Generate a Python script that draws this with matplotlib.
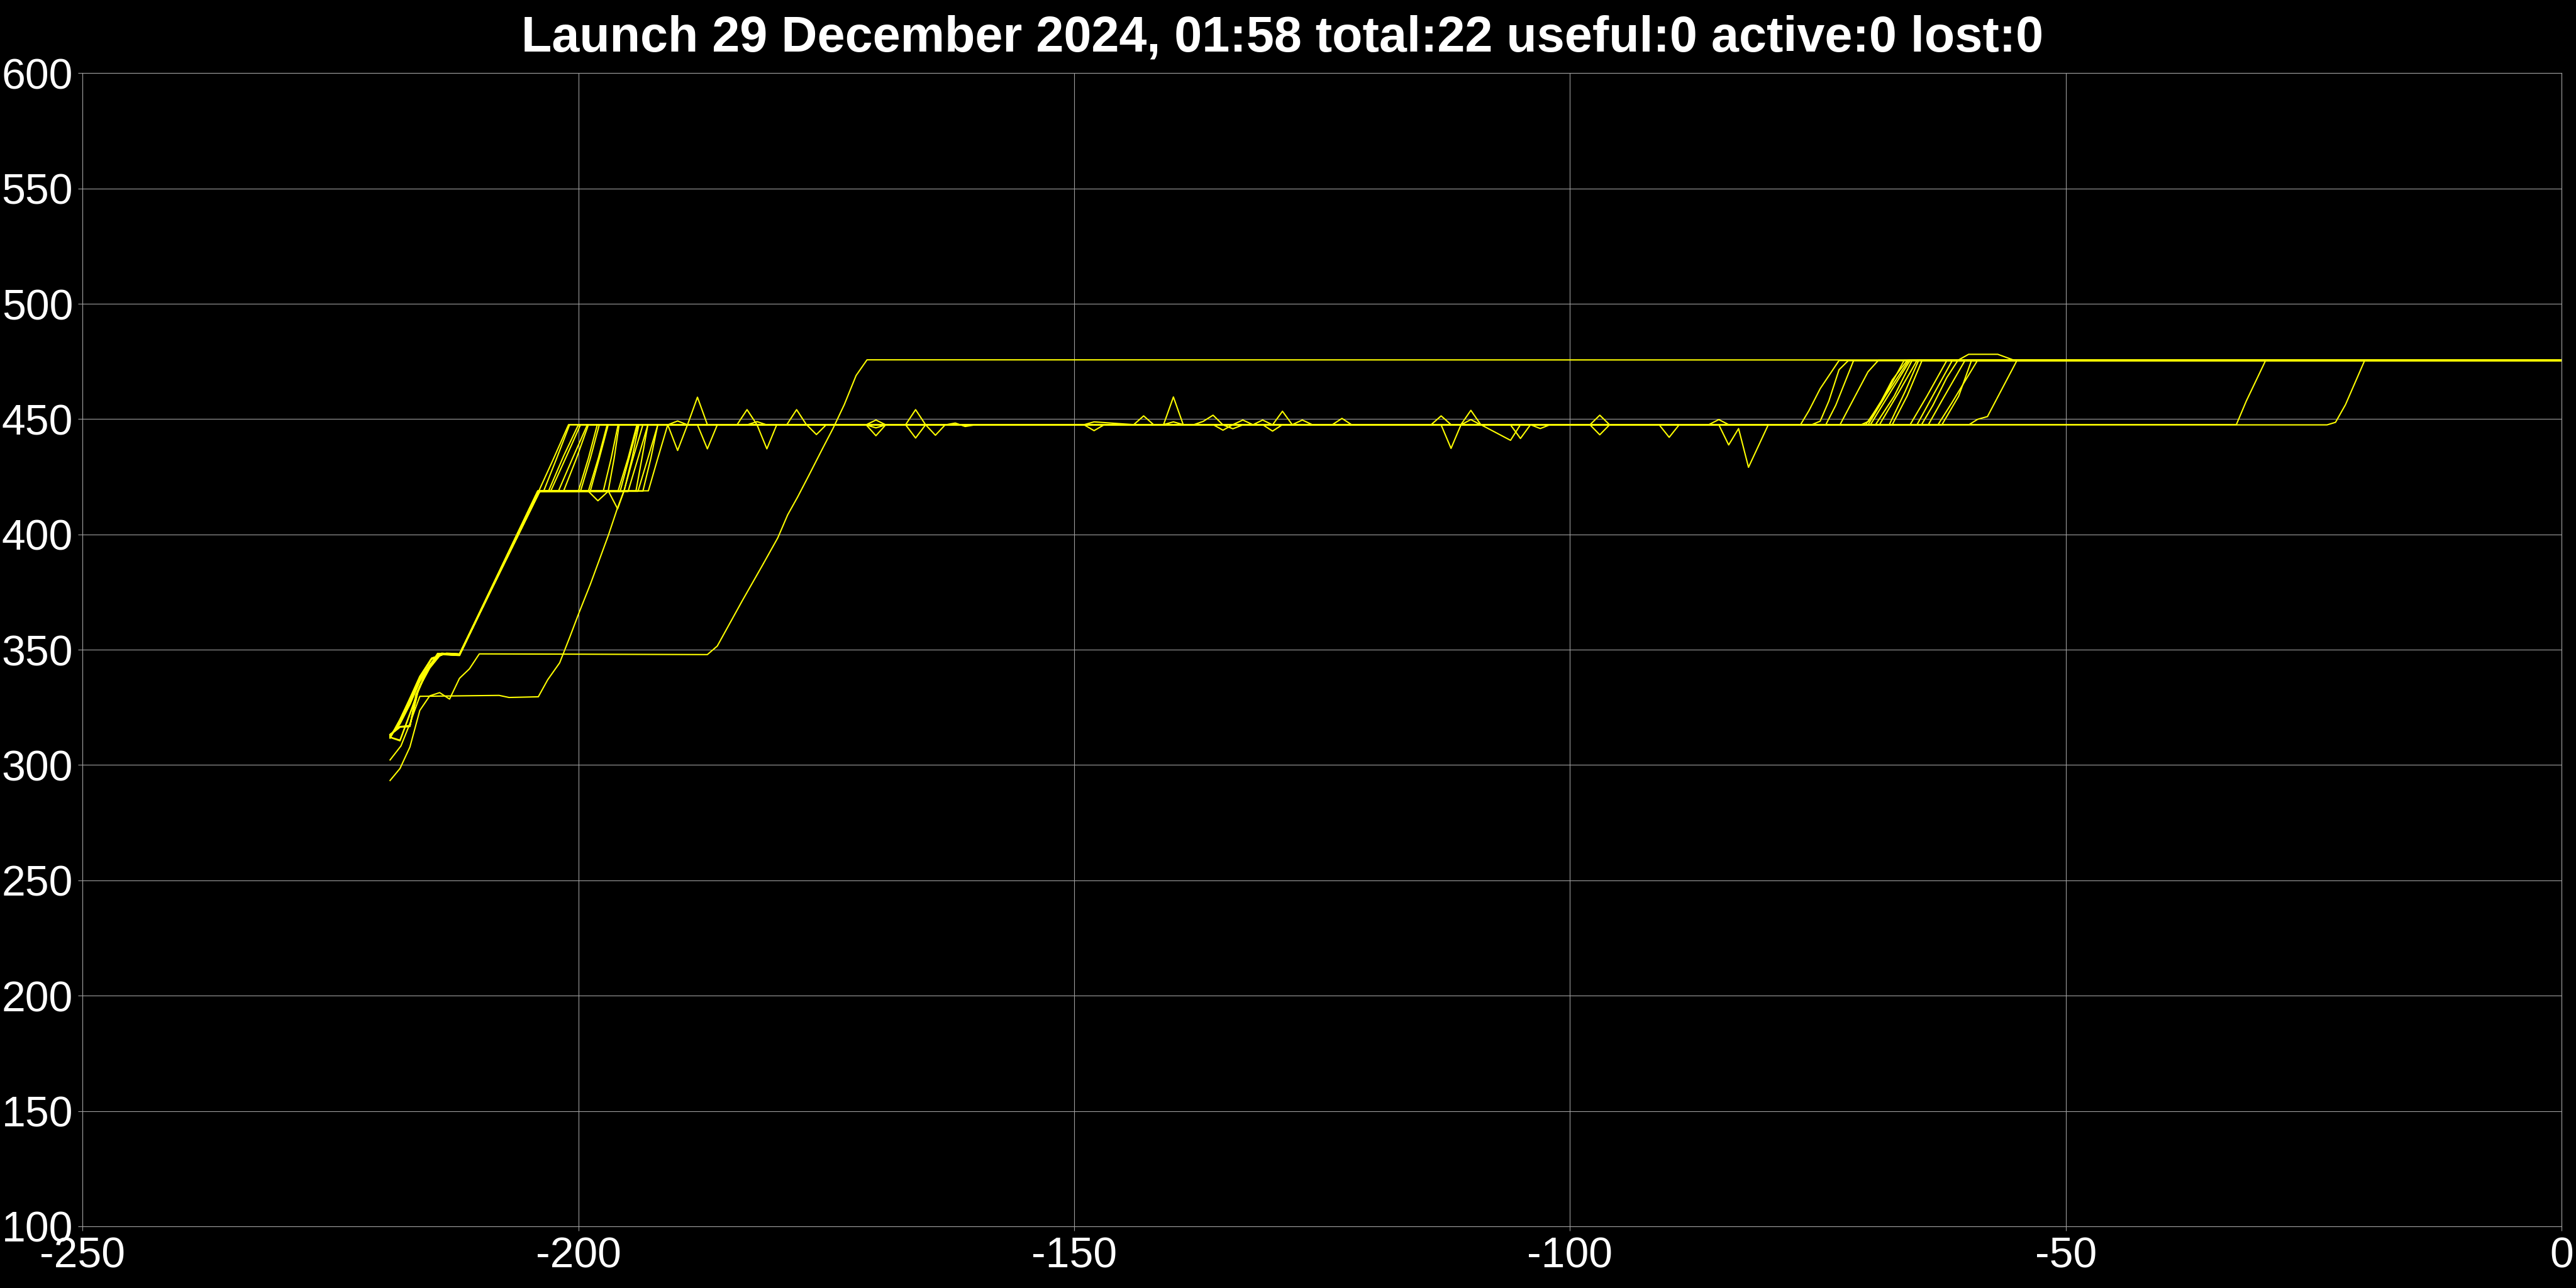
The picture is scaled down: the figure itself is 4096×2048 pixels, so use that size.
import matplotlib
matplotlib.use("Agg")
import matplotlib.pyplot as plt

plt.rcParams['axes.unicode_minus'] = False

title = "Launch 29 December 2024, 01:58 total:22 useful:0 active:0 lost:0"

x_ticks = [-250, -200, -150, -100, -50, 0]
y_ticks = [100, 150, 200, 250, 300, 350, 400, 450, 500, 550, 600]

# orbit-raising tracks, (days, altitude km) vertices
sat01 = [(-219, 312.5), (-218, 318.0), (-217, 326.5), (-216, 336.5), (-215, 343.0), (-214.2, 348.3), (-212, 347.8),
         (-204.0, 418.8), (-202.5, 433.0), (-201.0, 447.6), (-191, 447.6), (-190, 436.4), (-189, 447.6),
         (-141, 447.6), (-140, 448.8), (-139, 447.6), (-85, 447.6), (-84, 438.8), (-83, 445.9), (-82, 429.1),
         (-80, 447.6), (-76.75, 447.6), (-75.9, 453.7), (-74.77, 463.2), (-72.87, 475.4), (0, 475.4)]
sat02 = [(-219, 313.2), (-218, 316.6), (-217, 317.0), (-216.3, 331.0), (-215.2, 341.5), (-214.0, 348.1), (-212, 347.6),
         (-204.1, 418.7), (-203.5, 418.9), (-202.2, 433.0), (-200.9, 447.5), (-191, 447.5), (-190, 449.2),
         (-189, 447.5), (-138, 447.5), (-137, 449.0), (-136, 451.7), (-135, 447.5), (-69.95, 447.5),
         (-68.2, 460.0), (-65.84, 475.5), (0, 475.5)]
sat03 = [(-219, 311.8), (-218, 319.5), (-217, 328.5), (-216, 338.0), (-214.8, 346.0), (-213.4, 348.4), (-212, 348.1),
         (-203.9, 418.9), (-203.0, 419.0), (-201.5, 434.0), (-200.0, 447.6), (-189, 447.6), (-188, 459.5),
         (-187, 447.6), (-136, 447.6), (-135, 445.2), (-134, 447.6), (-75.6, 447.6), (-74.77, 449.1),
         (-73.9, 457.8), (-72.87, 471.4), (-71.93, 475.4), (0, 475.4)]
sat04 = [(-219, 312.6), (-218, 318.4), (-217, 327.0), (-216, 337.0), (-215, 343.5), (-214.0, 348.2), (-212, 347.9),
         (-204.0, 418.6), (-202.8, 418.8), (-201.3, 433.0), (-199.8, 447.5), (-188, 447.5), (-187, 437.1),
         (-186, 447.5), (-135, 447.5), (-134, 445.8), (-133, 447.5), (-64.56, 447.5), (-63.4, 456.0),
         (-62.0, 468.0), (-60.88, 475.5), (-59.8, 478.1), (-56.86, 478.1), (-55.2, 475.5), (0, 475.5)]
sat05 = [(-219, 313.0), (-218, 316.4), (-217, 316.8), (-216.2, 332.0), (-215.1, 342.0), (-213.9, 348.0), (-212, 347.7),
         (-204.0, 418.8), (-202.0, 419.0), (-200.6, 433.0), (-199.1, 447.6), (-184, 447.6), (-183, 454.1),
         (-182, 447.6), (-134, 447.6), (-133, 449.6), (-132, 447.6), (-69.7, 447.6), (-67.5, 463.0),
         (-65.7, 475.4), (0, 475.4)]
sat06 = [(-219, 311.9), (-218, 319.8), (-217, 329.0), (-216, 338.5), (-214.8, 346.3), (-213.3, 348.5), (-212, 348.2),
         (-203.9, 418.7), (-201.5, 418.8), (-200.2, 433.0), (-199.0, 447.5), (-183, 447.5), (-182, 448.9),
         (-181, 447.5), (-132, 447.5), (-131, 449.6), (-130, 447.5), (-72.78, 447.5), (-69.95, 470.5),
         (-68.9, 475.5), (0, 475.5)]
sat07 = [(-219, 312.4), (-218, 317.8), (-217, 326.2), (-216, 336.2), (-215, 342.8), (-214.2, 348.4), (-212, 347.8),
         (-204.1, 418.9), (-200.0, 418.9), (-199.0, 433.0), (-198.1, 447.6), (-182, 447.6), (-181, 437.1),
         (-180, 447.6), (-131, 447.6), (-130, 444.8), (-129, 447.6), (-65.7, 447.6), (-64.0, 460.0),
         (-62.0, 475.4), (0, 475.4)]
sat08 = [(-219, 312.0), (-218, 310.5), (-217, 322.0), (-216, 334.0), (-215, 342.0), (-213.8, 348.5), (-212, 347.9),
         (-204.0, 418.6), (-199.8, 418.7), (-198.8, 433.0), (-197.9, 447.5), (-179, 447.5), (-178, 454.1),
         (-177, 447.5), (-130, 447.5), (-129, 453.4), (-128, 447.5), (-70.66, 447.5), (-69.9, 449.0),
         (-68.6, 458.0), (-67.5, 467.0), (-65.98, 475.5), (0, 475.5)]
sat09 = [(-219, 313.3), (-218, 316.5), (-217, 316.7), (-216.4, 330.5), (-215.3, 341.0), (-214.1, 348.0), (-212, 347.5),
         (-204.0, 418.8), (-199.0, 418.8), (-198.0, 433.0), (-197.1, 447.6), (-177, 447.6), (-176, 443.3),
         (-175, 447.6), (-128, 447.6), (-127, 449.6), (-126, 447.6), (-65.0, 447.6), (-63.3, 461.0),
         (-61.45, 475.4), (0, 475.4)]
sat10 = [(-219, 311.7), (-218, 319.2), (-217, 328.2), (-216, 337.8), (-214.9, 345.8), (-213.5, 348.3), (-212, 348.0),
         (-203.9, 418.9), (-198.8, 418.9), (-197.9, 433.0), (-197.0, 447.5), (-171, 447.5), (-170, 449.6),
         (-169, 447.5), (-124, 447.5), (-123, 450.3), (-122, 447.5), (-69.2, 447.5), (-67.3, 460.0),
         (-65.5, 475.5), (0, 475.5)]
sat11 = [(-219, 312.7), (-218, 318.2), (-217, 326.8), (-216, 336.8), (-215, 343.2), (-214.1, 348.2), (-212, 347.8),
         (-204.0, 418.7), (-197.5, 418.7), (-196.7, 433.0), (-196.0, 447.6), (-171, 447.6), (-170, 442.8),
         (-169, 447.6), (-114, 447.6), (-113, 451.4), (-112, 447.6), (-63.86, 447.6), (-62.5, 458.0),
         (-60.17, 475.4), (0, 475.4)]
sat12 = [(-219, 313.1), (-218, 316.7), (-217, 317.1), (-216.3, 331.2), (-215.2, 341.7), (-214.0, 348.1), (-212, 347.6),
         (-204.1, 418.8), (-197.0, 418.8), (-196.4, 433.0), (-195.9, 447.5), (-171, 447.5), (-170, 446.2),
         (-169, 447.5), (-113, 447.5), (-112, 437.3), (-111, 447.5), (-68.8, 447.5), (-66.8, 462.0),
         (-65.0, 475.5), (0, 475.5)]
sat13 = [(-219, 311.9), (-218, 319.6), (-217, 328.7), (-216, 338.2), (-214.8, 346.2), (-213.4, 348.4), (-212, 348.1),
         (-204.0, 418.9), (-196.0, 418.9), (-195.0, 433.0), (-194.1, 447.6), (-167, 447.6), (-166, 454.1),
         (-165, 447.6), (-111, 447.6), (-110, 453.8), (-109, 447.6), (-67.8, 447.6), (-66.2, 462.0),
         (-64.85, 475.4), (0, 475.4)]
sat14 = [(-219, 312.1), (-218, 310.8), (-217, 322.4), (-216, 334.3), (-215, 342.2), (-213.8, 348.4), (-212, 347.9),
         (-203.9, 418.7), (-199.0, 418.7), (-198.04, 414.6), (-197.0, 418.7), (-195.8, 418.7), (-194.9, 433.0),
         (-194.0, 447.5), (-167, 447.5), (-166, 441.8), (-165, 447.5), (-111, 447.5), (-110, 449.8),
         (-109, 447.5), (-62.9, 447.5), (-61.5, 457.0), (-58.9, 475.5), (0, 475.5)]
sat15 = [(-219, 312.5), (-218, 318.1), (-217, 326.6), (-216, 336.6), (-215, 343.1), (-214.2, 348.3), (-212, 347.8),
         (-204.0, 418.8), (-195.4, 418.8), (-194.6, 433.0), (-193.9, 447.6), (-165, 447.6), (-164, 443.0),
         (-163, 447.6), (-109, 447.6), (-106, 440.8), (-105, 447.6), (-67.5, 447.6), (-66.0, 460.0),
         (-64.5, 475.4), (0, 475.4)]
sat16 = [(-219, 313.2), (-218, 316.5), (-217, 316.9), (-216.3, 331.0), (-215.2, 341.5), (-214.0, 348.1), (-212, 347.6),
         (-204.0, 418.6), (-195.0, 418.6), (-194.0, 433.0), (-193.0, 447.5), (-163, 447.5), (-162, 448.3),
         (-161, 446.8), (-160, 447.5), (-106, 447.5), (-105, 441.6), (-104, 447.5), (-62.5, 447.5),
         (-60.8, 460.0), (-59.5, 475.5), (0, 475.5)]
sat17 = [(-219, 311.8), (-218, 319.4), (-217, 328.4), (-216, 338.0), (-214.8, 346.0), (-213.4, 348.4), (-212, 348.1),
         (-204.1, 418.9), (-197.0, 418.9), (-196.05, 411.1), (-195.4, 418.9), (-194.2, 418.9), (-193.6, 433.0),
         (-193.0, 447.6), (-149, 447.6), (-148, 448.8), (-144, 447.6), (-104, 447.6), (-103, 445.9),
         (-102, 447.6), (-74.2, 447.6), (-73.2, 456.0), (-71.4, 475.4), (0, 475.4)]
sat18 = [(-219, 312.6), (-218, 318.3), (-217, 326.9), (-216, 336.9), (-215, 343.3), (-214.1, 348.2), (-212, 347.8),
         (-203.9, 418.7), (-194.0, 418.7), (-193.0, 433.0), (-192.0, 447.5), (-149, 447.5), (-148, 445.0),
         (-147, 447.5), (-98, 447.5), (-97, 451.7), (-96, 447.5), (-70.2, 447.5), (-68.5, 458.0),
         (-66.3, 475.5), (0, 475.5)]
sat19 = [(-219, 313.0), (-218, 316.6), (-217, 317.0), (-216.2, 331.5), (-215.2, 341.8), (-214.0, 348.0), (-212, 347.6),
         (-204.0, 418.8), (-193.5, 418.8), (-192.7, 433.0), (-192.0, 447.6), (-144, 447.6), (-143, 451.4),
         (-142, 447.6), (-98, 447.6), (-97, 443.2), (-96, 447.6), (-32.8, 447.6), (-31.8, 457.8),
         (-29.85, 475.4), (0, 475.4)]
sat20 = [(-219, 311.8), (-218, 319.7), (-217, 328.8), (-216, 338.3), (-214.8, 346.4), (-213.3, 348.4), (-212, 348.1),
         (-204.0, 418.9), (-192.95, 418.9), (-192.0, 433.0), (-191.0, 447.5), (-141, 447.5), (-140, 459.6),
         (-139, 447.5), (-91, 447.5), (-90, 442.1), (-89, 447.5), (-23.65, 447.5), (-22.8, 448.6),
         (-21.8, 456.2), (-19.85, 475.5), (0, 475.5)]
sat21 = [(-219, 302.2), (-217.9, 308.3), (-217.0, 318.0), (-216.0, 329.8), (-208, 330.2), (-207, 329.3), (-205, 329.5),
         (-204.05, 329.6), (-203.1, 337.0), (-201.9, 344.3), (-200.9, 355.2), (-199.93, 366.2), (-198.8, 378.4),
         (-196.97, 399.8), (-196.1, 411.0), (-195.4, 419.0), (-194.5, 433.0), (-193.5, 447.6), (-86, 447.6),
         (-85, 449.8), (-84, 447.6), (-59.75, 447.6), (-58.9, 449.9), (-57.9, 451.1), (-54.93, 475.4), (0, 475.4)]
sat22 = [(-219, 293.3), (-218, 298.5), (-217, 307.8), (-216, 323.7), (-215, 330.0), (-214, 331.4), (-213, 328.6),
         (-212, 337.6), (-211, 341.7), (-210, 348.2), (-187, 347.9), (-186, 351.6), (-183.5, 371.1),
         (-181.5, 386.2), (-179.9, 398.5), (-178.9, 408.5), (-177.9, 416.2), (-176.8, 425.3), (-175.4, 437.1),
         (-174.3, 446.2), (-173.2, 456.2), (-172.0, 468.9), (-170.9, 475.7), (0, 475.6)]

tracks = [sat01, sat02, sat03, sat04, sat05, sat06, sat07, sat08, sat09, sat10, sat11,
          sat12, sat13, sat14, sat15, sat16, sat17, sat18, sat19, sat20, sat21, sat22]

grid_col = '#a0a0a0'

fig = plt.figure(figsize=(40.96, 20.48), dpi=100, facecolor='black')
ax = fig.add_axes([0.0321, 0.0479, 0.9623, 0.8953])
ax.set_facecolor('black')

for trk in tracks:
    xs = [p[0] for p in trk]
    ys = [p[1] for p in trk]
    ax.plot(xs, ys, color='#ffff00', lw=1.5, zorder=3)

ax.set_xlim(-250, 0)
ax.set_ylim(100, 600)
ax.set_xticks(x_ticks)
ax.set_yticks(y_ticks)
ax.grid(True, color=grid_col, lw=0.8)
ax.set_axisbelow(True)
for s in ax.spines.values():
    s.set_color(grid_col)
    s.set_linewidth(0.8)
ax.tick_params(direction='out', length=5, width=0.8, color=grid_col,
               labelcolor='white', labelsize=49, pad=6)
for lab in ax.get_xticklabels() + ax.get_yticklabels():
    lab.set_fontfamily('Liberation Sans')

fig.text(0.4977, 0.9604, title, color='white', fontsize=57, fontweight='bold',
         family='Liberation Sans', ha='center', va='baseline')

fig.savefig('out.png', dpi=100, facecolor='black')
